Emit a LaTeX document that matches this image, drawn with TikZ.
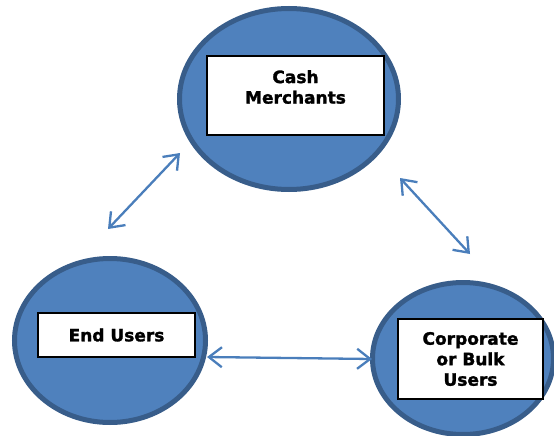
\documentclass[tikz,border=0pt]{standalone}
\usepackage{fontspec}
\setmainfont{DejaVu Sans}
\newfontfamily\heavy{DejaVu Sans Bold}[FakeBold=1.6]
\usetikzlibrary{shapes.geometric,arrows.meta}
\definecolor{efill}{HTML}{4F81BD}
\definecolor{edraw}{HTML}{385D8A}
\definecolor{arr}{HTML}{4A7EBB}
\tikzset{
  bubble/.style={ellipse, draw=edraw, fill=efill, line width=5pt, inner sep=0pt},
  tbox/.style={rectangle, draw=black, fill=white, line width=1.5pt, inner sep=0pt},
  lbl/.style={align=center, font=\heavy\fontsize{17}{20.5}\selectfont, inner sep=0pt},
  link/.style={draw=arr, line width=2.3pt, {Straight Barb[length=13pt,width=20pt]}-{Straight Barb[length=13pt,width=20pt]}}
}
\begin{document}
\begin{tikzpicture}[x=1pt,y=-1pt]
\useasboundingbox (0,0) rectangle (554,436);
% ellipses
\node[bubble, minimum width=219pt, minimum height=181pt] (cm) at (289,99) {};
\node[bubble, minimum width=191pt, minimum height=164pt] (eu) at (110,340.5) {};
\node[bubble, minimum width=181pt, minimum height=152pt] (cb) at (463,358.5) {};
% text boxes
\node[tbox, minimum width=177pt, minimum height=79pt] (cmbox) at (295.5,95.5) {};
\node[lbl] (cmtext) at (295.5,87) {Cash\\Merchants};
\node[tbox, minimum width=157pt, minimum height=44pt, lbl] (eubox) at (116.5,335) {End Users};
\node[tbox, minimum width=145pt, minimum height=80pt, lbl] (cbbox) at (470.5,359) {Corporate\\or Bulk\\Users};
% arrow end points
\coordinate (a1s) at (108,229);
\coordinate (a1e) at (180,153);
\coordinate (a2s) at (400,178);
\coordinate (a2e) at (470,254);
\coordinate (a3s) at (207,357);
\coordinate (a3e) at (372,359);
\draw[link] (a1s) -- (a1e);
\draw[link] (a2s) -- (a2e);
\draw[link] (a3s) -- (a3e);
\end{tikzpicture}
\end{document}
